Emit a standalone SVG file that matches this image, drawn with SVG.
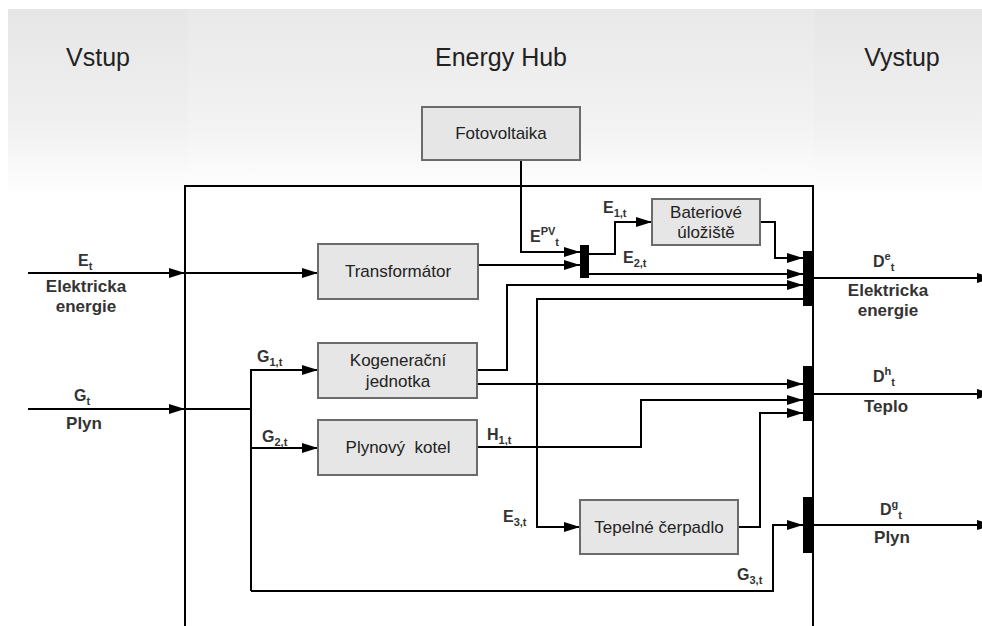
<svg xmlns="http://www.w3.org/2000/svg" width="982" height="626" viewBox="0 0 982 626">
<defs>
<linearGradient id="bgOuter" x1="0" y1="0" x2="0" y2="1">
<stop offset="0" stop-color="#e6e6e6"/>
<stop offset="0.6" stop-color="#f0f0f0"/>
<stop offset="1" stop-color="#ffffff"/>
</linearGradient>
<linearGradient id="bgMid" x1="0" y1="0" x2="0" y2="1">
<stop offset="0" stop-color="#e9e9e9"/>
<stop offset="0.6" stop-color="#f2f2f2"/>
<stop offset="1" stop-color="#ffffff"/>
</linearGradient>
<marker id="ah" markerWidth="16" markerHeight="10" refX="16" refY="5" orient="auto" markerUnits="userSpaceOnUse">
<path d="M0,0 L16,5 L0,10 z" fill="#000"/>
</marker>
</defs>
<style>
.title{font-family:"Liberation Sans",Arial,sans-serif;font-size:25px;fill:#222;text-anchor:middle}
.node rect{fill:#e6e6e6;stroke:#6b6b6b;stroke-width:2}
.node text{font-family:"Liberation Sans",Arial,sans-serif;font-size:17px;fill:#222;text-anchor:middle}
.lbl{font-family:"Liberation Sans",Arial,sans-serif;font-weight:bold;font-size:16px;fill:#333}
.desc{font-family:"Liberation Sans",Arial,sans-serif;font-weight:bold;font-size:17px;fill:#333;text-anchor:middle}
.sm{font-size:11px}
.ln{fill:none;stroke:#000;stroke-width:2}
.arr{fill:none;stroke:#000;stroke-width:2;marker-end:url(#ah)}
.bus{fill:#000}
</style>
<rect width="982" height="626" fill="#fff"/>
<g id="background">
<rect x="8" y="9" width="974" height="188" fill="url(#bgOuter)"/>
<rect x="188" y="9" width="626" height="188" fill="url(#bgMid)"/>
</g>
<g id="titles">
<text class="title" x="98" y="66">Vstup</text>
<text class="title" x="501" y="66">Energy Hub</text>
<text class="title" x="902" y="66">Vystup</text>
</g>
<g id="hub-frame">
<path class="ln" d="M185,640 V186 H813 V640"/>
</g>
<g id="connectors">
<line class="arr" x1="28" y1="273" x2="185" y2="273"/>
<line class="arr" x1="185" y1="273" x2="318" y2="273"/>
<line class="arr" x1="28" y1="409" x2="185" y2="409"/>
<path class="ln" d="M185,409 H251"/>
<path class="arr" d="M251,591 V370 H318"/>
<path class="arr" d="M251,448 H318"/>
<path class="arr" d="M251,591 H773 V525 H803"/>
<path class="arr" d="M521,160 V252 H580"/>
<path class="arr" d="M478,265 H580"/>
<path class="arr" d="M589,254 H615 V222 H652"/>
<path class="arr" d="M589,274 H803"/>
<path class="arr" d="M760,222 H775 V258 H803"/>
<path class="arr" d="M477,370 H507 V285 H803"/>
<path class="arr" d="M803,299 H537 V527 H580"/>
<path class="arr" d="M477,384 H803"/>
<path class="arr" d="M477,447 H641 V400 H803"/>
<path class="arr" d="M738,527 H760 V413 H803"/>
<line class="arr" x1="813" y1="278" x2="993" y2="278"/>
<line class="arr" x1="813" y1="394" x2="993" y2="394"/>
<line class="arr" x1="813" y1="525" x2="993" y2="525"/>
</g>
<g id="buses">
<rect id="bus-pv" class="bus" x="580" y="245" width="9" height="33"/>
<rect id="bus-e" class="bus" x="803" y="251" width="10" height="55"/>
<rect id="bus-h" class="bus" x="803" y="366" width="10" height="55"/>
<rect id="bus-g" class="bus" x="803" y="497" width="10" height="56"/>
</g>
<g id="fotovoltaika" class="node">
<rect x="422" y="107" width="158" height="53"/>
<text x="501" y="139">Fotovoltaika</text>
</g>
<g id="transformator" class="node">
<rect x="318" y="244" width="160" height="55"/>
<text x="398" y="277">Transformátor</text>
</g>
<g id="baterie" class="node">
<rect x="652" y="199" width="108" height="46"/>
<text x="706" y="218">Bateriové</text>
<text x="706" y="238">úložiště</text>
</g>
<g id="kogenerace" class="node">
<rect x="318" y="343" width="159" height="55"/>
<text x="398" y="366">Kogenerační</text>
<text x="398" y="387">jednotka</text>
</g>
<g id="kotel" class="node">
<rect x="318" y="420" width="159" height="55"/>
<text x="398" y="453" xml:space="preserve">Plynový  kotel</text>
</g>
<g id="cerpadlo" class="node">
<rect x="580" y="500" width="158" height="54"/>
<text x="659" y="533">Tepelné čerpadlo</text>
</g>
<g id="labels">
<text class="lbl" x="78" y="266">E<tspan class="sm" dy="4">t</tspan></text>
<text class="desc" x="86" y="292">Elektricka</text>
<text class="desc" x="86" y="312">energie</text>
<text class="lbl" x="74" y="401">G<tspan class="sm" dy="4">t</tspan></text>
<text class="desc" x="84" y="429">Plyn</text>
<text class="lbl" x="257" y="362">G<tspan class="sm" dy="4">1,t</tspan></text>
<text class="lbl" x="262" y="442">G<tspan class="sm" dy="4">2,t</tspan></text>
<text class="lbl" x="487" y="440">H<tspan class="sm" dy="4">1,t</tspan></text>
<text class="lbl" x="503" y="522">E<tspan class="sm" dy="4">3,t</tspan></text>
<text class="lbl" x="737" y="580">G<tspan class="sm" dy="4">3,t</tspan></text>
<text class="lbl" x="603" y="213">E<tspan class="sm" dy="4">1,t</tspan></text>
<text class="lbl" x="623" y="263">E<tspan class="sm" dy="4">2,t</tspan></text>
<text class="lbl" x="530" y="242">E<tspan class="sm" dy="-7">PV</tspan><tspan class="sm" dy="11">t</tspan></text>
<text class="lbl" x="873" y="267">D<tspan class="sm" dy="-7">e</tspan><tspan class="sm" dy="11">t</tspan></text>
<text class="desc" x="888" y="296">Elektricka</text>
<text class="desc" x="888" y="316">energie</text>
<text class="lbl" x="873" y="382">D<tspan class="sm" dy="-7">h</tspan><tspan class="sm" dy="11">t</tspan></text>
<text class="desc" x="886" y="412">Teplo</text>
<text class="lbl" x="880" y="515">D<tspan class="sm" dy="-7">g</tspan><tspan class="sm" dy="11">t</tspan></text>
<text class="desc" x="892" y="543">Plyn</text>
</g>
</svg>
